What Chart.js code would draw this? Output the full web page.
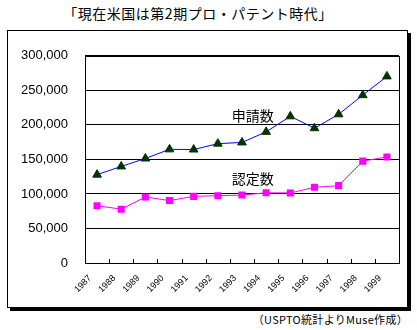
<!DOCTYPE html>
<html lang="ja">
<head>
<meta charset="UTF-8">
<title>プロ・パテント時代</title>
<script src="https://cdn.jsdelivr.net/npm/chart.js@4.4.1/dist/chart.umd.min.js"></script>
<style>
  body { margin: 0; background: #fff; width: 417px; height: 330px; position: relative; overflow: hidden; }
  .title { position: absolute; left: 0; width: 396px; top: 3px; text-align: center; letter-spacing: 0.5px;
           font: 14px "Noto Sans CJK JP", sans-serif; color: #000; }
  .frame { position: absolute; left: 7px; top: 30px; width: 399px; height: 276px;
           border: 1px solid #000; box-shadow: 3px 3px 0 #000; background: #fff; }
  .note { position: absolute; right: 9px; top: 311px; letter-spacing: 0.3px;
          font: 11px "Noto Sans CJK JP", sans-serif; color: #000; }
</style>
</head>
<body>
<div class="title">「現在米国は第2期プロ・パテント時代」</div>
<div class="frame"><canvas id="c" width="399" height="276"></canvas></div>
<div class="note">（USPTO統計よりMuse作成）</div>
<script>
const years = ["1987", "1988", "1989", "1990", "1991", "1992", "1993",
               "1994", "1995", "1996", "1997", "1998", "1999"];
// 申請数 (applications)
const applications = [127917, 139825, 151331, 164558, 164306, 172800, 174553,
                      189857, 212377, 195187, 215257, 243062, 270187];
// 認定数 (grants)
const grants = [82952, 77924, 95537, 90365, 96511, 97444, 98342,
                101676, 101419, 109645, 111984, 147517, 153485];
const yTicks = [0, 50000, 100000, 150000, 200000, 250000, 300000];

const seriesLabels = [
  { text: "申請数", x: 6.45, y: 214000 },
  { text: "認定数", x: 6.45, y: 121500 }
];

// plot box, inner x tick marks and series captions
const extras = {
  id: "extras",
  afterDraw(chart) {
    const { ctx, chartArea: a, scales } = chart;
    ctx.save();
    ctx.strokeStyle = "#000";
    ctx.lineWidth = 1;
    ctx.strokeRect(Math.round(a.left) + 0.5, Math.round(a.top) + 0.5,
                   Math.round(a.right - a.left), Math.round(a.bottom - a.top));
    const step = (a.right - a.left) / years.length;
    ctx.beginPath();
    for (let i = 1; i < years.length; i++) {
      const x = Math.round(a.left + step * i) + 0.5;
      ctx.moveTo(x, a.bottom);
      ctx.lineTo(x, a.bottom - 4);
    }
    ctx.stroke();
    ctx.fillStyle = "#000";
    ctx.font = '14px "Noto Sans CJK JP", sans-serif';
    ctx.textAlign = "center";
    ctx.textBaseline = "middle";
    seriesLabels.forEach(l => {
      const x = scales.x.left + step * (l.x + 0.5);
      ctx.fillText(l.text, x, scales.y.getPixelForValue(l.y));
    });
    ctx.restore();
  }
};

new Chart(document.getElementById("c"), {
  type: "line",
  data: {
    labels: years,
    datasets: [
      {
        label: "申請数",
        data: applications,
        borderColor: "#0000ff",
        borderWidth: 1,
        pointStyle: "triangle",
        pointRadius: 5,
        pointBackgroundColor: "#003300",
        pointBorderColor: "#003300",
        pointBorderWidth: 1,
        tension: 0
      },
      {
        label: "認定数",
        data: grants,
        borderColor: "#ff00ff",
        borderWidth: 1,
        pointStyle: "rect",
        pointRadius: 5,
        pointBackgroundColor: "#ff00ff",
        pointBorderColor: "#ff00ff",
        pointBorderWidth: 0,
        tension: 0
      }
    ]
  },
  options: {
    responsive: false,
    animation: false,
    layout: { padding: { top: 17, right: 8, left: 0, bottom: 0 } },
    plugins: { legend: { display: false }, tooltip: { enabled: false } },
    scales: {
      x: {
        offset: true,
        afterFit: s => { s.height = 44; },
        grid: { display: false },
        border: { display: false },
        ticks: {
          color: "#000",
          font: { family: "Liberation Sans", size: 9 },
          minRotation: 45,
          maxRotation: 45,
          labelOffset: -7,
          padding: 2
        }
      },
      y: {
        min: 0,
        max: 300000,
        afterFit: s => { s.width = 77; },
        afterBuildTicks: s => { s.ticks = yTicks.map(v => ({ value: v })); },
        grid: { color: "#000", lineWidth: 1, drawTicks: false },
        border: { display: false },
        ticks: {
          color: "#000",
          font: { family: "Liberation Sans", size: 13 },
          padding: 17,
          callback: v => v.toLocaleString("en-US")
        }
      }
    }
  },
  plugins: [extras]
});
</script>
</body>
</html>
